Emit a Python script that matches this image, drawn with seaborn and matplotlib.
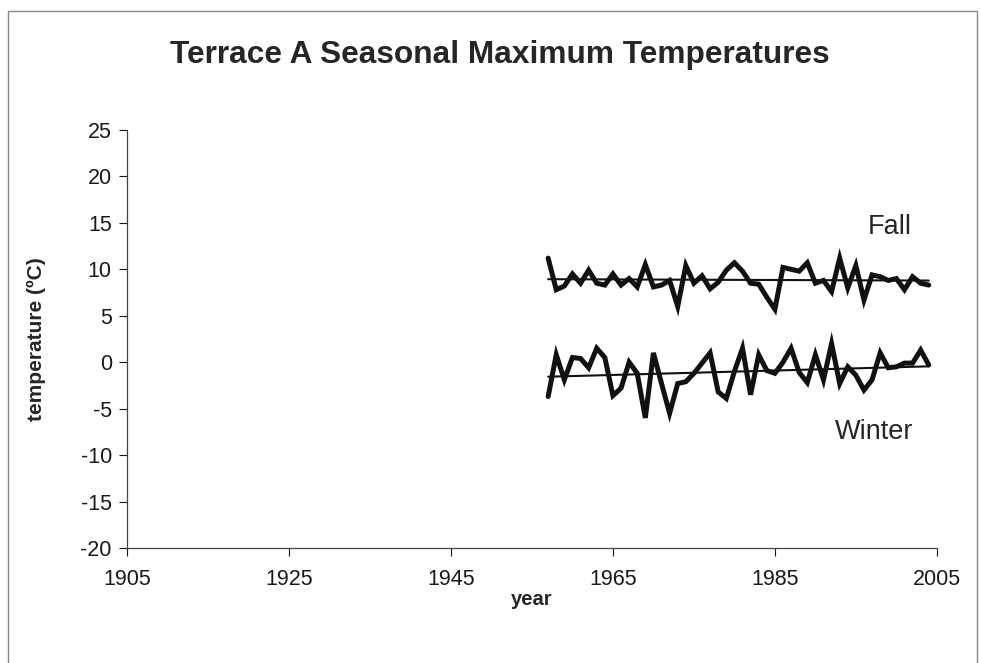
import matplotlib
matplotlib.use("Agg")
import matplotlib.pyplot as plt
from matplotlib.patches import Rectangle
import seaborn as sns
import numpy as np
import pandas as pd

years = list(range(1957, 2005))

fall = [11.2, 7.8, 8.2, 9.5, 8.5, 9.9, 8.5, 8.3, 9.5, 8.3,
        9.0, 8.1, 10.5, 8.1, 8.3, 8.8, 6.0, 10.4, 8.5, 9.3,
        7.9, 8.6, 9.9, 10.7, 9.8, 8.5, 8.4, 7.0, 5.7, 10.2,
        10.0, 9.8, 10.7, 8.5, 8.8, 7.6, 11.2, 8.0, 10.4, 6.7,
        9.4, 9.2, 8.8, 9.0, 7.8, 9.2, 8.5, 8.3]

winter = [-3.7, 0.8, -1.9, 0.5, 0.4, -0.6, 1.5, 0.5, -3.6, -2.8,
          0.0, -1.2, -6.0, 1.0, -2.3, -5.5, -2.3, -2.1, -1.2, -0.1,
          1.0, -3.2, -3.9, -1.0, 1.5, -3.5, 0.8, -0.9, -1.2, 0.0,
          1.5, -1.1, -2.2, 0.8, -1.9, 2.0, -2.3, -0.5, -1.4, -3.0,
          -1.9, 1.0, -0.6, -0.5, -0.1, -0.1, 1.3, -0.3]

x_ticks = [1905, 1925, 1945, 1965, 1985, 2005]
y_ticks = [25, 20, 15, 10, 5, 0, -5, -10, -15, -20]

df = pd.DataFrame({"year": years, "Fall": fall, "Winter": winter})

sns.set_theme(style="white")
plt.rcParams["font.family"] = ["Liberation Sans", "DejaVu Sans"]
plt.rcParams["axes.unicode_minus"] = False

fig = plt.figure(figsize=(9.81, 6.63), dpi=100)
ax = fig.add_axes([0.1295, 0.1735, 0.8255, 0.6305])

for season in ["Fall", "Winter"]:
    sns.lineplot(data=df, x="year", y=season, ax=ax, color="#111111",
                 linewidth=3.6, solid_joinstyle="miter")
    sns.regplot(data=df, x="year", y=season, ax=ax, scatter=False, ci=None,
                color="#111111", line_kws={"linewidth": 1.5})

ax.set_xlim(1905, 2005)
ax.set_ylim(-20, 25)
ax.set_xticks(x_ticks)
ax.set_yticks(y_ticks)
ax.tick_params(axis="both", which="major", labelsize=15.5, length=6, width=0.8,
               colors="#1a1a1a", direction="out", pad=5)
ax.tick_params(axis="x", pad=9)
ax.tick_params(axis="y", left=True)
ax.tick_params(axis="x", bottom=True)

for side in ["top", "right"]:
    ax.spines[side].set_visible(False)
for side in ["left", "bottom"]:
    ax.spines[side].set_color("#444444")
    ax.spines[side].set_linewidth(0.9)

ax.set_xlabel("year", fontsize=14.5, fontweight="bold", labelpad=0)
ax.set_ylabel("temperature (ºC)", fontsize=15, fontweight="bold", labelpad=25)

ax.text(1999.2, 14.6, "Fall", fontsize=19.5, ha="center", va="center")
ax.text(1997.2, -7.5, "Winter", fontsize=19.5, ha="center", va="center")

fig.text(0.509, 0.917, "Terrace A Seasonal Maximum Temperatures",
         fontsize=22.8, fontweight="bold", ha="center", va="center")

# thin frame round the whole chart area
fig.patches.append(Rectangle((0.008, -0.02), 0.988, 1.004, transform=fig.transFigure,
                             fill=False, edgecolor="#888888", linewidth=1.0))

fig.savefig("out.png", dpi=100, facecolor="white")
